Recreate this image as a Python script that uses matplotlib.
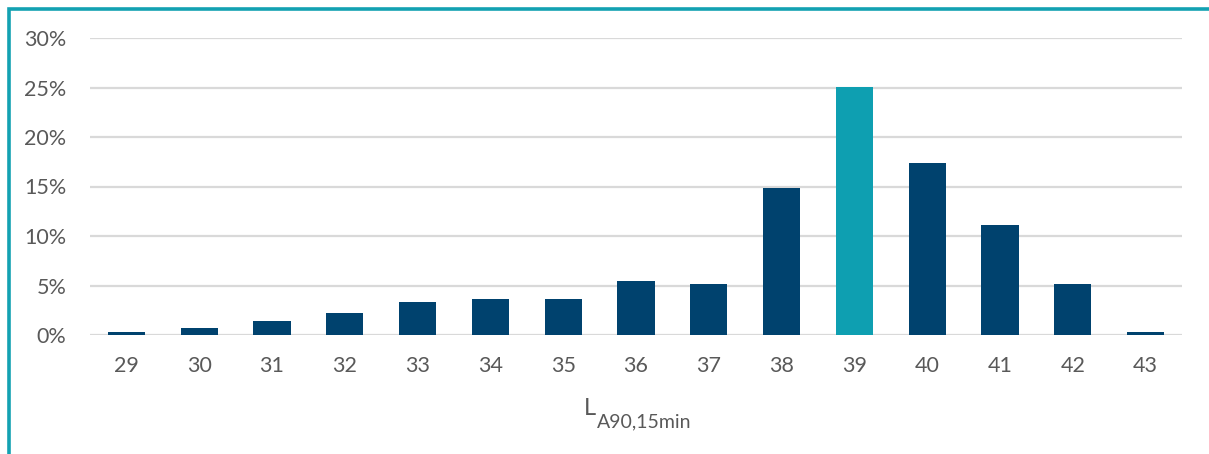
import matplotlib.pyplot as plt
from matplotlib.patches import Rectangle
from matplotlib.ticker import PercentFormatter

# share of 15-minute periods per L_A90 level (dB)
levels = [29, 30, 31, 32, 33, 34, 35, 36, 37, 38, 39, 40, 41, 42, 43]
shares = [0.35, 0.7, 1.4, 2.2, 3.3, 3.65, 3.65, 5.5, 5.15, 14.8, 25.1, 17.35, 11.1, 5.15, 0.35]
highlight = 39

navy = '#00426E'
teal = '#0E9FB1'
grey_txt = '#595959'

plt.rcParams['font.family'] = ['Lato', 'DejaVu Sans']

fig = plt.figure(figsize=(12.09, 4.54), dpi=100)
ax = fig.add_axes([90/1209, 1 - 335/454, (1182 - 90)/1209, (335 - 38)/454])

pos = list(range(len(levels)))
colors = [teal if lv == highlight else navy for lv in levels]
ax.bar(pos, [s/100 for s in shares], width=0.51, color=colors, zorder=3)

ax.set_xlim(-0.5, len(levels) - 0.5)
ax.set_ylim(0, 0.30)
ax.set_yticks([0, 0.05, 0.10, 0.15, 0.20, 0.25, 0.30])
ax.yaxis.set_major_formatter(PercentFormatter(1.0, decimals=0))
ax.set_xticks(pos)
ax.set_xticklabels([str(lv) for lv in levels])

ax.grid(axis='y', color='#D9D9D9', lw=1.6, zorder=0)
ax.set_axisbelow(True)
for s in ax.spines.values():
    s.set_visible(False)
ax.tick_params(axis='both', length=0, labelsize=15.5, colors=grey_txt)
ax.tick_params(axis='y', pad=17)
ax.tick_params(axis='x', pad=15)

# axis title: L with subscript
lbl = fig.text(584/1209, 1 - 415/454, 'L', fontsize=17, color=grey_txt,
               ha='left', va='baseline')
ax.annotate('A90,15min', xy=(1, 0), xycoords=lbl, xytext=(0.5, -6),
            textcoords='offset points', fontsize=14, color=grey_txt,
            ha='left', va='baseline')

# frame line along top and left edges
fig.patches.append(Rectangle((8.5/1209, -0.1), 1.2, 0.1 + (454 - 9)/454,
                             transform=fig.transFigure, fill=False,
                             edgecolor='#13A1B2', lw=2.6))

fig.savefig('out.png', dpi=100)
